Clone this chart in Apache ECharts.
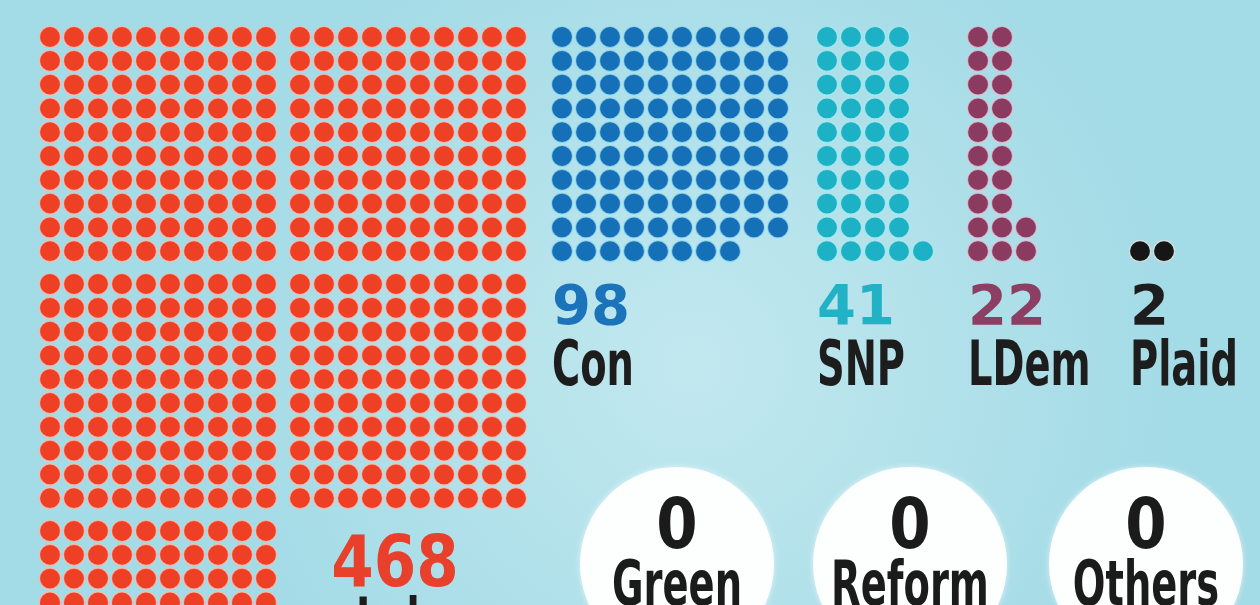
<!DOCTYPE html>
<html>
<head>
<meta charset="utf-8">
<script src="https://cdn.jsdelivr.net/npm/echarts@6/dist/echarts.min.js"></script>
<style>
  html, body { margin: 0; padding: 0; }
  #main { width: 1260px; height: 605px; }
</style>
</head>
<body>
<div id="main"></div>
<script>
var parties = ["Lab", "Con", "SNP", "LDem", "Plaid"];
var seats = [468, 98, 41, 22, 2];
var zeroParties = ["Green", "Reform", "Others"];
var zeroSeats = [0, 0, 0];

var colors = ["#ee4024", "#1570b8", "#1db1c6", "#8b3b60", "#161616"];
var numColors = ["#e8402a", "#1b74ba", "#22b2c6", "#8c3f62", "#1d1d1d"];

// layout of the dot groups
var STEPX = 24, STEPY = 23.8, TOP = 37, ROWS = 10, GAP = 9;
var groupX = [50, 562, 827, 978, 1140];
var circleX = [677, 910, 1146], circleY = 564;

function blockDots(n, x0) {
  var pts = [];
  for (var i = 0; i < n; i++) {
    var b = Math.floor(i / 100), k = i % 100;
    var bx = b % 2, by = Math.floor(b / 2);
    pts.push([x0 + bx * (10 * STEPX + GAP + 1) + (k % 10) * STEPX,
              TOP + by * (10 * STEPY + GAP) + Math.floor(k / 10) * STEPY]);
  }
  return pts;
}
function rowDots(n, x0, width) {
  var pts = [];
  for (var i = 0; i < n; i++) {
    pts.push([x0 + (i % width) * STEPX, TOP + Math.floor(i / width) * STEPY]);
  }
  return pts;
}
function colDots(n, x0, height) {
  var pts = [];
  for (var i = 0; i < n; i++) {
    pts.push([x0 + Math.floor(i / height) * STEPX, TOP + (ROWS - 1 - (i % height)) * STEPY]);
  }
  return pts;
}

var dots = [
  blockDots(seats[0], groupX[0]),
  rowDots(seats[1], groupX[1], 10),
  colDots(seats[2], groupX[2], 10),
  colDots(seats[3], groupX[3], 10),
  colDots(seats[4], groupX[4], 1)
];

var halo = ["rgba(255,190,180,0.8)", "rgba(150,220,240,0.8)", "rgba(170,235,240,0.8)",
            "rgba(230,190,210,0.8)", "rgba(235,235,235,0.8)"];

var series = parties.map(function (p, i) {
  return {
    name: p,
    type: "scatter",
    symbol: "circle",
    symbolSize: 21,
    silent: true,
    itemStyle: { color: colors[i], opacity: 1, borderColor: halo[i], borderWidth: 1.2 },
    data: dots[i]
  };
});
series.push({
  name: "zero",
  type: "scatter",
  symbol: "circle",
  symbolSize: 194,
  silent: true,
  itemStyle: { color: "#fdfefe", opacity: 1, shadowColor: "rgba(255,255,255,0.6)", shadowBlur: 6 },
  data: zeroParties.map(function (p, i) { return [circleX[i], circleY]; })
});

function txt(x, y, text, size, color, align, sx) {
  return {
    type: "text", x: x, y: y, scaleX: sx, silent: true, z: 10,
    style: {
      text: text, fill: color,
      font: "bold " + size + "px 'DejaVu Sans', sans-serif",
      align: align, verticalAlign: "middle",
      textAlign: align, textVerticalAlign: "middle"
    }
  };
}

var graphics = [];
// Labour label
graphics.push(txt(395, 568, String(seats[0]), 71, numColors[0], "center", 0.86));
graphics.push(txt(395, 626, parties[0], 62, "#1d1d1d", "center", 0.62));
for (var i = 1; i < parties.length; i++) {
  graphics.push(txt(groupX[i] - 10, 309, String(seats[i]), 56, numColors[i], "left", 1.0));
  graphics.push(txt(groupX[i] - 10, 369, parties[i], 62, "#1d1d1d", "left", 0.62));
}
for (var j = 0; j < zeroParties.length; j++) {
  graphics.push(txt(circleX[j], 530, String(zeroSeats[j]), 70, "#1b1b1b", "center", 0.85));
  graphics.push(txt(circleX[j], 589, zeroParties[j], 62, "#1b1b1b", "center", 0.62));
}

var chart = echarts.init(document.getElementById("main"));
chart.setOption({
  animation: false,
  backgroundColor: {
    type: "radial", x: 0.55, y: 0.6, r: 0.8,
    colorStops: [
      { offset: 0, color: "#c2e8ef" },
      { offset: 1, color: "#a3dbe6" }
    ]
  },
  grid: { left: 0, right: 0, top: 0, bottom: 0 },
  xAxis: { type: "value", min: 0, max: 1260, show: false },
  yAxis: { type: "value", min: 0, max: 605, inverse: true, show: false },
  graphic: graphics,
  series: series
});
</script>
</body>
</html>
